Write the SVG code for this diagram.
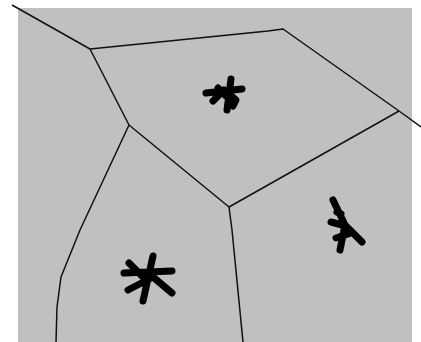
<svg xmlns="http://www.w3.org/2000/svg" width="421" height="342" viewBox="0 0 421 342">
<style>
.edge{fill:none;stroke:#111;stroke-width:1.5;stroke-linejoin:round}
.blob{fill:none;stroke:#000;stroke-width:7;stroke-linecap:round;stroke-linejoin:round}
</style>
<rect x="0" y="0" width="421" height="342" fill="#fff"/>
<rect id="region" x="18" y="8" width="394" height="334" fill="#c0c0c0"/>
<g id="edges">
<path class="edge" d="M12,5 L90,49 L268,31 L283,29 L399,111 L421,127"/>
<path class="edge" d="M90,49 L129,125 L229,207 L399,111"/>
<path class="edge" d="M129,125 L80,230 L61,277 L57,307 L56,342"/>
<path class="edge" d="M229,207 L232,230 L243,342"/>
</g>
<g id="blob-top">
<path class="blob" d="M206,93 L242,89 M231,79 L227,110 M213,101 L224,90 L236,100 L233,106 M218,88 L226,96"/>
</g>
<g id="blob-right">
<path class="blob" d="M333,200 L345,225 L340,250 M331,222 L346,226 L362,242 M336,238 L351,233 M337,212 L341,214"/>
</g>
<g id="blob-left">
<path class="blob" d="M153,256 L143,301 M124,273 L172,271 M128,290 L153,277 L172,293 M129,263 L147,281"/>
</g>
</svg>
